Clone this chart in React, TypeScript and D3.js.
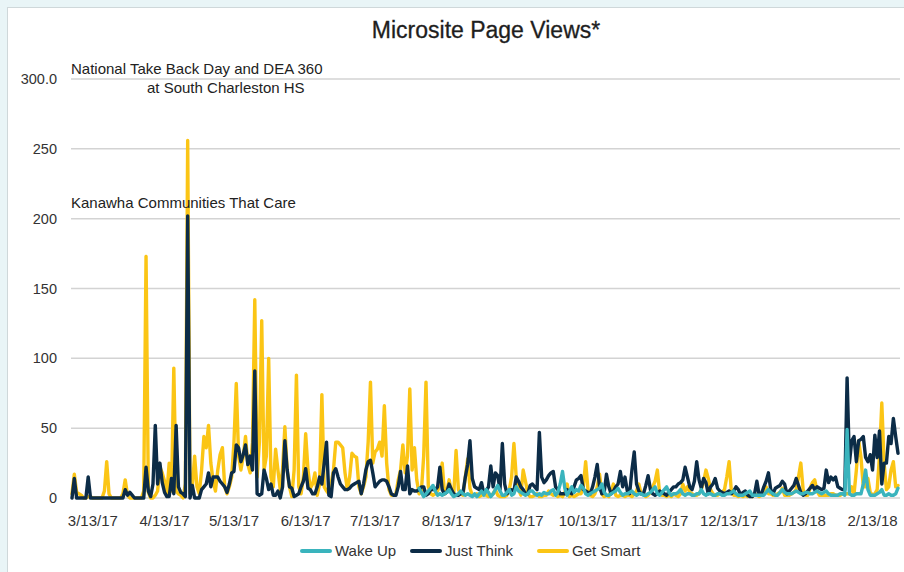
import React from 'react';
import * as d3 from 'd3';

// daily page views, first day 3/4/17
const startDay = '2017-03-04';
const wakeUpStartDay = '2017-08-01';

const getSmart = [
  3, 17, 4, 3, 2, 0, 0, 1, 1, 0,
  0, 0, 0, 0, 5, 26, 3, 0, 0, 0,
  0, 0, 3, 13, 2, 0, 0, 0, 0, 0,
  0, 5, 173, 4, 0, 0, 2, 5, 22, 18,
  12, 3, 25, 5, 93, 5, 3, 2, 0, 10,
  256, 3, 8, 30, 8, 3, 20, 44, 36, 52,
  25, 12, 5, 20, 31, 36, 8, 3, 8, 15,
  40, 82, 30, 20, 30, 44, 24, 18, 40, 142,
  15, 40, 127, 20, 30, 100, 15, 8, 35, 20,
  6, 20, 51, 20, 8, 1, 20, 88, 8, 3,
  15, 46, 20, 7, 10, 18, 2, 10, 74, 8,
  5, 3, 10, 20, 40, 40, 38, 36, 18, 6,
  15, 32, 30, 29, 8, 3, 8, 15, 40, 83,
  25, 33, 35, 40, 30, 66, 25, 6, 2, 2,
  3, 13, 20, 38, 18, 30, 78, 20, 36, 13,
  3, 5, 30, 83, 8, 3, 2, 3, 5, 10,
  25, 3, 5, 13, 4, 3, 34, 6, 3, 2,
  15, 28, 7, 2, 2, 3, 1, 2, 3, 2,
  1, 2, 3, 6, 2, 1, 1, 1, 2, 6,
  15, 39, 15, 6, 2, 20, 12, 3, 1, 1,
  2, 3, 1, 1, 2, 2, 5, 3, 2, 3,
  1, 2, 1, 4, 10, 1, 2, 1, 2, 3,
  3, 8, 26, 6, 2, 1, 3, 8, 17, 3,
  1, 2, 1, 5, 10, 2, 1, 2, 2, 1,
  2, 2, 1, 3, 5, 10, 3, 3, 1, 2,
  4, 8, 12, 20, 3, 2, 2, 1, 2, 1,
  3, 2, 1, 3, 10, 5, 8, 4, 3, 2,
  2, 3, 6, 12, 20, 14, 6, 3, 2, 2,
  3, 4, 6, 15, 26, 4, 2, 2, 1, 2,
  1, 2, 1, 2, 1, 3, 2, 1, 2, 3,
  8, 3, 3, 2, 2, 3, 4, 7, 2, 2,
  2, 3, 4, 6, 15, 25, 6, 2, 2, 7,
  11, 13, 5, 2, 2, 2, 2, 2, 3, 3,
  2, 2, 2, 3, 3, 3, 3, 8, 3, 20,
  41, 29, 8, 8, 14, 4, 2, 3, 6, 30,
  68, 25, 6, 8, 20, 26, 8, 9,
];

const justThink = [
  0, 14, 0, 0, 0, 0, 0, 15, 0, 0,
  0, 0, 0, 0, 0, 0, 0, 0, 0, 0,
  0, 0, 0, 6, 2, 4, 2, 0, 0, 0,
  0, 0, 22, 5, 1, 10, 52, 10, 25, 11,
  4, 1, 1, 14, 3, 52, 8, 4, 3, 1,
  202, 0, 9, 0, 0, 0, 6, 8, 10, 18,
  8, 15, 15, 15, 12, 10, 8, 4, 10, 18,
  19, 38, 36, 26, 31, 38, 24, 30, 20, 91,
  3, 2, 3, 20, 14, 6, 10, 2, 2, 5,
  0, 8, 41, 20, 8, 7, 1, 2, 3, 8,
  12, 21, 7, 6, 3, 3, 8, 15, 10, 25,
  40, 2, 1, 18, 21, 15, 10, 8, 6, 6,
  7, 9, 10, 11, 12, 3, 10, 20, 26, 27,
  18, 8, 10, 12, 13, 13, 12, 8, 3, 2,
  2, 8, 19, 6, 6, 23, 3, 6, 5, 5,
  6, 8, 8, 2, 3, 6, 6, 6, 8, 22,
  6, 3, 4, 10, 6, 3, 2, 2, 3, 4,
  15, 24, 41, 14, 8, 7, 6, 11, 3, 5,
  8, 23, 8, 18, 16, 6, 39, 10, 3, 5,
  6, 5, 15, 12, 8, 6, 3, 3, 9, 10,
  8, 6, 47, 15, 11, 13, 16, 18, 19, 8,
  6, 3, 3, 3, 6, 4, 3, 8, 13, 14,
  16, 6, 5, 4, 3, 8, 15, 24, 8, 3,
  4, 17, 8, 3, 5, 8, 10, 19, 8, 15,
  5, 3, 20, 33, 10, 5, 3, 3, 9, 16,
  6, 3, 2, 3, 5, 4, 3, 2, 4, 6,
  8, 8, 10, 11, 13, 22, 15, 8, 6, 12,
  26, 13, 7, 14, 11, 3, 8, 10, 14, 7,
  5, 4, 3, 4, 5, 3, 5, 8, 6, 2,
  4, 5, 2, 1, 1, 3, 12, 2, 3, 8,
  12, 18, 6, 3, 7, 8, 9, 12, 10, 3,
  5, 7, 9, 14, 9, 4, 2, 3, 5, 7,
  9, 6, 8, 7, 6, 7, 20, 11, 15, 13,
  15, 8, 7, 6, 6, 86, 25, 41, 44, 26,
  41, 42, 44, 29, 26, 31, 20, 45, 29, 48,
  10, 25, 25, 44, 39, 57, 44, 32,
];

// Wake Up only has data from 8/1/17
const wakeUp = [
  7, 4, 1, 3, 5, 7, 9, 5, 2, 3,
  2, 3, 4, 6, 3, 1, 2, 3, 5, 3,
  2, 3, 2, 1, 3, 1, 3, 5, 2, 6,
  4, 1, 3, 6, 9, 5, 2, 2, 4, 6,
  2, 3, 8, 5, 4, 3, 2, 3, 5, 5,
  3, 2, 3, 2, 4, 3, 3, 5, 6, 2,
  4, 10, 19, 7, 2, 5, 8, 4, 6, 5,
  9, 7, 3, 2, 3, 4, 5, 6, 7, 10,
  4, 2, 2, 3, 4, 5, 7, 4, 2, 3,
  3, 4, 5, 3, 2, 3, 3, 2, 2, 3,
  4, 6, 8, 3, 2, 4, 6, 8, 4, 2,
  3, 3, 4, 6, 3, 2, 3, 3, 2, 2,
  3, 3, 6, 3, 2, 3, 3, 2, 2, 3,
  3, 2, 2, 3, 3, 4, 5, 3, 2, 2,
  2, 3, 4, 5, 2, 2, 2, 2, 2, 2,
  4, 6, 4, 3, 2, 2, 4, 6, 4, 3,
  3, 3, 4, 5, 4, 3, 3, 4, 4, 3,
  3, 4, 5, 4, 3, 4, 5, 3, 2, 2,
  2, 2, 3, 3, 2, 49, 3, 2, 2, 3,
  3, 3, 10, 20, 6, 2, 2, 2, 3, 4,
  6, 2, 2, 3, 2, 2, 3, 7,
];

const xTickLabels = ['3/13/17', '4/13/17', '5/13/17', '6/13/17', '7/13/17', '8/13/17',
  '9/13/17', '10/13/17', '11/13/17', '12/13/17', '1/13/18', '2/13/18'];
const yTicks = [0, 50, 100, 150, 200, 250, 300];
const yTickLabels = ['0', '50', '100', '150', '200', '250', '300.0'];

const seriesNames = ['Wake Up', 'Just Think', 'Get Smart'];
const seriesColors = ['#3ab4bd', '#0c2c47', '#fbc515'];

const W = 904;
const H = 572;
const font = '"Liberation Sans", Arial, sans-serif';

const App: React.FC = () => {
  const parseIso = d3.timeParse('%Y-%m-%d');
  const parseTick = d3.timeParse('%m/%d/%y');
  const start = parseIso(startDay) as Date;
  const wakeStart = parseIso(wakeUpStartDay) as Date;

  const toPoints = (vals: number[], from: Date) =>
    vals.map((v, i) => ({ date: d3.timeDay.offset(from, i), value: v }));

  const smartPts = toPoints(getSmart, start);
  const thinkPts = toPoints(justThink, start);
  const wakePts = toPoints(wakeUp, wakeStart);

  const margin = { top: 79, right: 6, bottom: 74, left: 72 };

  const x = d3.scaleTime()
    .domain([start, d3.timeDay.offset(start, getSmart.length - 1)])
    .range([margin.left, W - margin.right]);

  const y = d3.scaleLinear()
    .domain([0, 300])
    .range([H - margin.bottom, margin.top]);

  const line = d3.line<{ date: Date; value: number }>()
    .x((d) => x(d.date))
    .y((d) => y(d.value));

  // drawn bottom to top
  const layers = [
    { pts: smartPts, color: seriesColors[2] },
    { pts: thinkPts, color: seriesColors[1] },
    { pts: wakePts, color: seriesColors[0] },
  ];

  const legendX = [302, 412, 539];

  return (
    <div style={{ position: 'absolute', left: 0, top: 0 }}>
      <svg width={W} height={H} style={{ display: 'block', fontFamily: font }}>
        <rect x={0} y={0} width={W} height={H} fill="#e9f5f7" />
        <rect x={7.5} y={7.5} width={W} height={H} fill="#ffffff" stroke="#cfd8da" />

        <text x={486} y={38} textAnchor="middle" fontSize={23} fill="#1e1e1e" stroke="#1e1e1e" strokeWidth={0.3}>
          Microsite Page Views*
        </text>

        {/* grid + y labels */}
        {yTicks.map((t, i) => (
          <g key={t}>
            <line x1={margin.left - 1} x2={W - 4} y1={y(t)} y2={y(t)} stroke="#d3d3d3" strokeWidth={1.5} />
            <text x={57} y={y(t)} dy="0.35em" textAnchor="end" fontSize={14.5} fill="#333">
              {yTickLabels[i]}
            </text>
          </g>
        ))}

        {/* x labels */}
        {xTickLabels.map((lbl) => (
          <text key={lbl} x={x(parseTick(lbl) as Date)} y={521} dy="0.35em" textAnchor="middle" fontSize={15} fill="#333">
            {lbl}
          </text>
        ))}

        {layers.map((l, i) => (
          <path
            key={i}
            d={line(l.pts) || ''}
            fill="none"
            stroke={l.color}
            strokeWidth={3.4}
            strokeLinejoin="round"
            strokeLinecap="round"
          />
        ))}

        {/* event notes */}
        <g fontSize={15} fill="#222">
          <text x={71} y={74}>National Take Back Day and DEA 360</text>
          <text x={147} y={93}>at South Charleston HS</text>
          <text x={71} y={208}>Kanawha Communities That Care</text>
        </g>

        {/* legend */}
        {seriesNames.map((name, i) => (
          <g key={name} transform={`translate(${legendX[i]},551)`}>
            <line x1={0} x2={28} y1={0} y2={0} stroke={seriesColors[i]} strokeWidth={4} strokeLinecap="round" />
            <text x={33} y={0} dy="0.35em" fontSize={15} fill="#333">{name}</text>
          </g>
        ))}
      </svg>
    </div>
  );
};

export default App;
